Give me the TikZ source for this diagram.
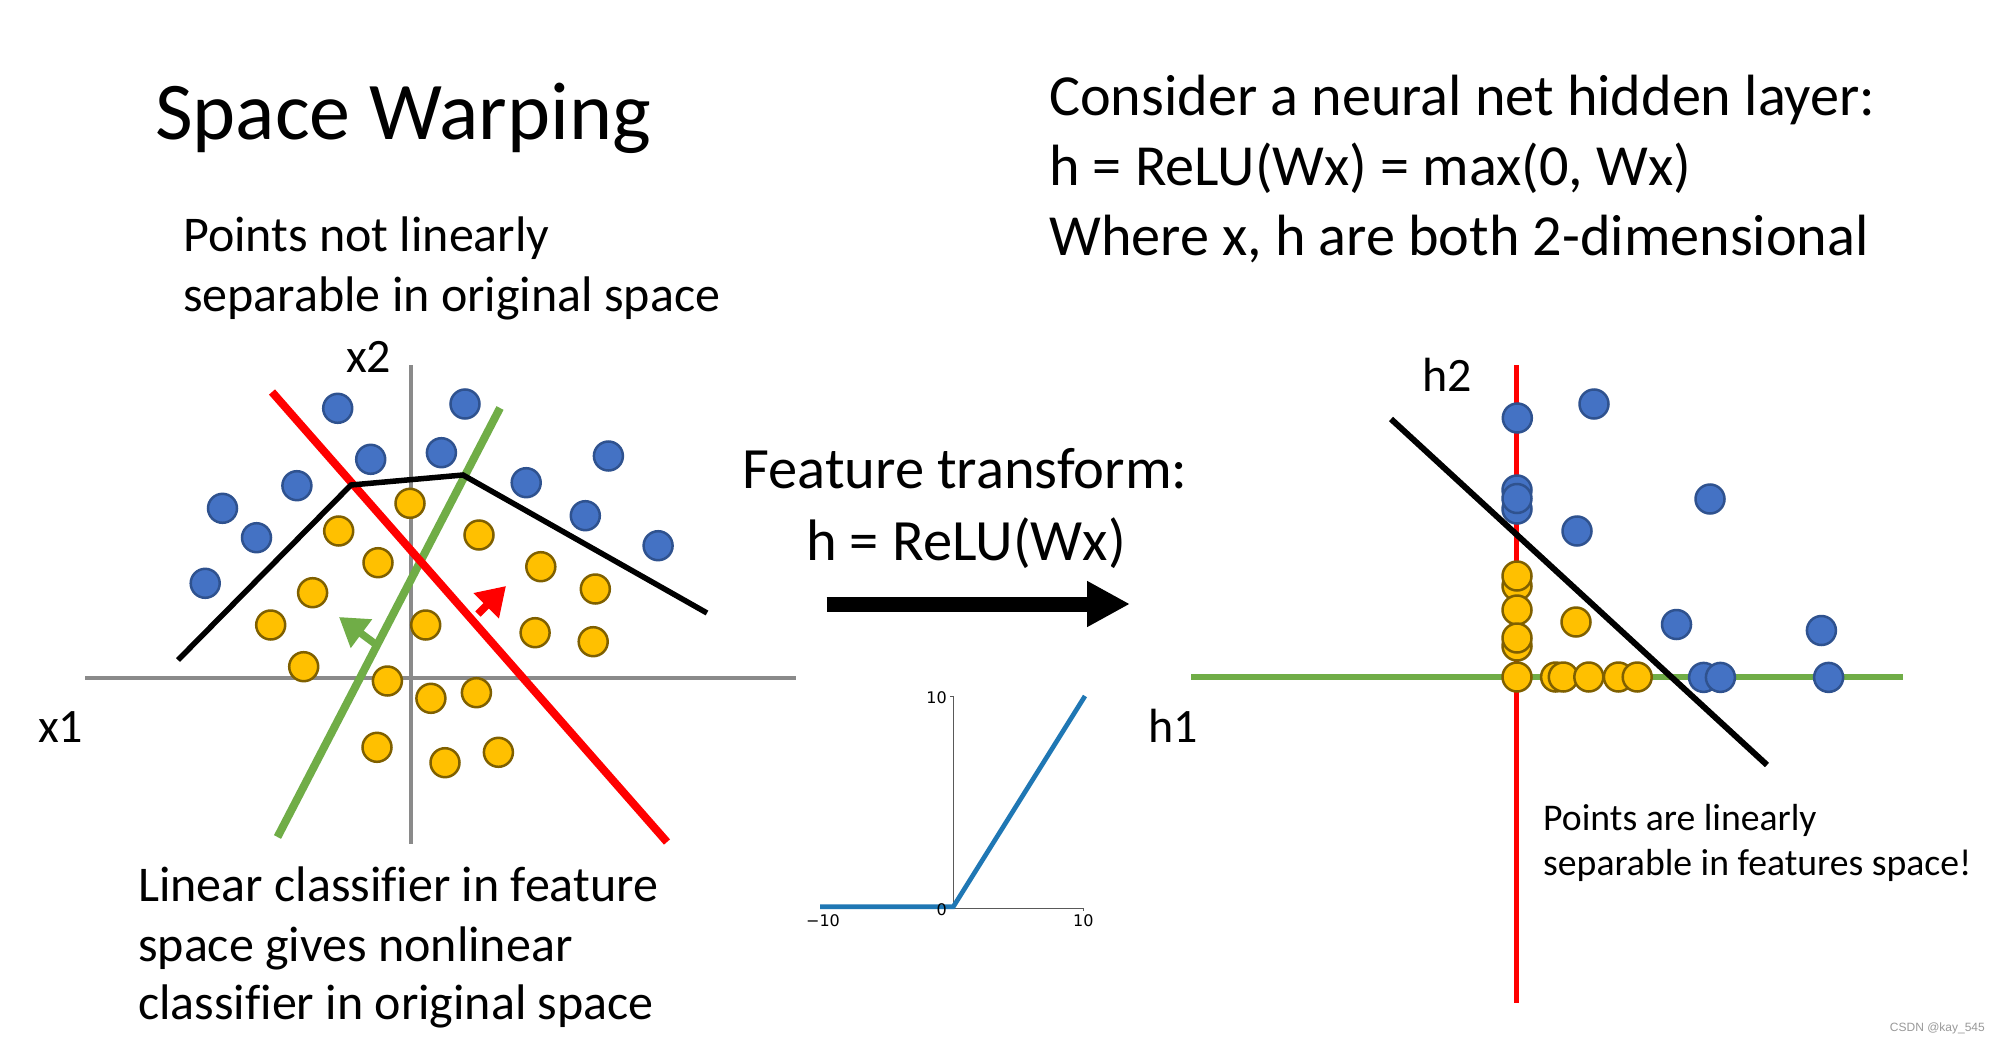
\documentclass[tikz,border=0pt]{standalone}
\usepackage{fontspec}
\setmainfont[Ligatures=NoCommon]{Carlito}
\newfontfamily\plotfont{DejaVu Sans}
\newfontfamily\wmfont{Liberation Sans}
\usetikzlibrary{arrows.meta}
\definecolor{bluef}{HTML}{4472C4}
\definecolor{blued}{HTML}{2F528F}
\definecolor{yelf}{HTML}{FFC000}
\definecolor{yeld}{HTML}{7F6000}
\definecolor{axgray}{HTML}{8A8A8A}
\definecolor{pgreen}{HTML}{70AD47}
\definecolor{pred}{HTML}{FF0000}
\definecolor{mplblue}{HTML}{1F77B4}
\begin{document}
\begin{tikzpicture}[x=1pt,y=-1pt,
  bdot/.style={circle,fill=bluef,draw=blued,line width=2.5pt,minimum size=29pt,inner sep=0pt},
  ydot/.style={circle,fill=yelf,draw=yeld,line width=2.5pt,minimum size=29pt,inner sep=0pt},
  txt/.style={anchor=base west,inner sep=0pt},
  axisline/.style={draw=axgray,line width=3.5pt},
  sep/.style={line width=8pt},
  smallarrow/.style={line width=7.5pt,-{Triangle[length=28pt,width=34pt]}},
  plotlbl/.style={inner sep=0pt,font=\plotfont\fontsize{16}{19}\selectfont}]
\fill[white] (0,0) rectangle (2000,1044);
\useasboundingbox (0,0) rectangle (2000,1044);

% ---------- texts ----------
\node[txt,font=\fontsize{82}{98}\selectfont] (title) at (155,139) {Space Warping};
\node[txt,font=\fontsize{50}{60}\selectfont] (p1a) at (183,251) {Points not linearly};
\node[txt,font=\fontsize{50}{60}\selectfont] (p1b) at (183,311) {separable in original space};

\node[txt,font=\fontsize{58.2}{70}\selectfont] (c1) at (1049,115) {Consider a neural net hidden layer:};
\node[txt,font=\fontsize{58.2}{70}\selectfont] (c2) at (1049,185) {h = ReLU(Wx) = max(0, Wx)};
\node[txt,font=\fontsize{58.2}{70}\selectfont] (c3) at (1049,255) {Where x, h are both 2-dimensional};

\node[anchor=base,inner sep=0pt,font=\fontsize{58.5}{70}\selectfont] (ft1) at (965,488) {Feature transform:};
\node[anchor=base,inner sep=0pt,font=\fontsize{58.5}{70}\selectfont] (ft2) at (966,560) {h = ReLU(Wx)};

\node[txt,font=\fontsize{50}{60}\selectfont] (l1) at (138,901) {Linear classifier in feature};
\node[txt,font=\fontsize{50}{60}\selectfont] (l2) at (138,961) {space gives nonlinear};
\node[txt,font=\fontsize{50}{60}\selectfont] (l3) at (138,1019) {classifier in original space};

\node[txt,font=\fontsize{37.7}{45}\selectfont] (r1) at (1543,830) {Points are linearly};
\node[txt,font=\fontsize{37.7}{45}\selectfont] (r2) at (1543,875) {separable in features space!};

\node[txt,font=\fontsize{48}{58}\selectfont] (x2) at (346,372) {x2};
\node[txt,font=\fontsize{48}{58}\selectfont] (x1) at (38,742) {x1};
\node[txt,font=\fontsize{48}{58}\selectfont] (h1) at (1148,742) {h1};
\node[txt,font=\fontsize{48}{58}\selectfont] (h2) at (1422,391) {h2};

\node[anchor=base east,inner sep=0pt,text=black!40,font=\wmfont\fontsize{12}{14}\selectfont] (wm) at (1985,1031) {CSDN @kay\_545};

% ---------- left plot ----------
\coordinate (axL) at (85,678);
\coordinate (axR) at (796,678);
\coordinate (axT) at (411,365);
\coordinate (axB) at (411,844);
\draw[axisline] (axL) -- (axR);
\draw[axisline] (axT) -- (axB);

\foreach \x/\y [count=\i] in {337.7/408.3,465/404,370.7/459.3,441.4/452.7,608.4/456,296.9/485.7,526.2/482.7,222.5/508.3,585.3/515.7,256.5/537.7,658.1/545.7,205.2/583.3}
  \node[bdot] (lb\i) at (\x,\y) {};
\foreach \x/\y [count=\i] in {410/503.3,338.7/531,479/535,378/562.7,540.8/566.7,595.3/589,312.6/592.7,270.7/625,425.7/625,535.1/632.7,593.2/641.7,303.7/666.7,387.4/681,430.9/698.3,476.4/692.7,377/747.3,445/762.7,498.4/752.3}
  \node[ydot] (ly\i) at (\x,\y) {};

\coordinate (gT) at (500,408);
\coordinate (gB) at (277.5,837);
\coordinate (rT) at (272,392);
\coordinate (rB) at (667,842);
\draw[sep,pgreen] (gT) -- (gB);
\draw[sep,pred] (rT) -- (rB);
\coordinate (bk1) at (178,660);
\coordinate (bk2) at (351,485);
\coordinate (bk3) at (463,475);
\coordinate (bk4) at (707,613);
\draw[line width=5.5pt,line join=miter] (bk1) -- (bk2) -- (bk3) -- (bk4);

\coordinate (gaS) at (378,646);
\coordinate (gaE) at (339,617);
\coordinate (raS) at (478,614);
\coordinate (raE) at (506,586);
\draw[smallarrow,pgreen] (gaS) -- (gaE);
\draw[smallarrow,pred] (raS) -- (raE);

% ---------- main arrow ----------
\coordinate (maS) at (826.7,604);
\coordinate (maE) at (1130,604);
\draw[line width=15pt,-{Triangle[length=43pt,width=43pt]}] (maS) -- (maE);

% ---------- ReLU plot ----------
\coordinate (rO) at (953.3,908.3);
\coordinate (rYT) at (953.3,696);
\coordinate (rXR) at (1083.3,908.3);
\draw[black!65,line width=0.9pt] (rYT) -- (rO) -- (rXR);
\draw[black!65,line width=0.9pt] (rYT) -- ++(-3,0);
\draw[black!65,line width=0.9pt] (rXR) -- ++(0,3);
\coordinate (bl1) at (820,906.7);
\coordinate (bl2) at (953.3,906.7);
\coordinate (bl3) at (1085,696);
\draw[mplblue,line width=4.7pt] (bl1) -- (bl2) -- (bl3);
\node[plotlbl,anchor=east] (t10y) at (947,698) {10};
\node[plotlbl,anchor=east] (t0) at (947,910) {0};
\node[plotlbl] (tm10) at (823,921) {−10};
\node[plotlbl] (t10x) at (1083.3,921) {10};

% ---------- right plot ----------
\coordinate (hrT) at (1516.5,365);
\coordinate (hrB) at (1516.5,1003);
\coordinate (hgL) at (1191,677);
\coordinate (hgR) at (1903,677);
\draw[pred,line width=5.5pt] (hrT) -- (hrB);
\draw[pgreen,line width=6pt] (hgL) -- (hgR);

\foreach \x/\y [count=\i] in {1517.3/418,1594/404,1517/509,1517/490,1517/498.5,1710/499,1577/531,1676.5/624.5,1821.4/630.5,1703.6/677.4,1720.4/677.4,1828.6/677.4}
  \node[bdot] (rb\i) at (\x,\y) {};
\foreach \x/\y [count=\i] in {1517/586,1517/576,1517/610,1517/646,1517/638,1576/622,1517/677,1555.6/677,1563.3/677,1588.8/677,1618.4/677,1637.2/677}
  \node[ydot] (ry\i) at (\x,\y) {};

\coordinate (hbT) at (1391,419);
\coordinate (hbB) at (1767,765);
\draw[line width=6pt] (hbT) -- (hbB);
\end{tikzpicture}
\end{document}
